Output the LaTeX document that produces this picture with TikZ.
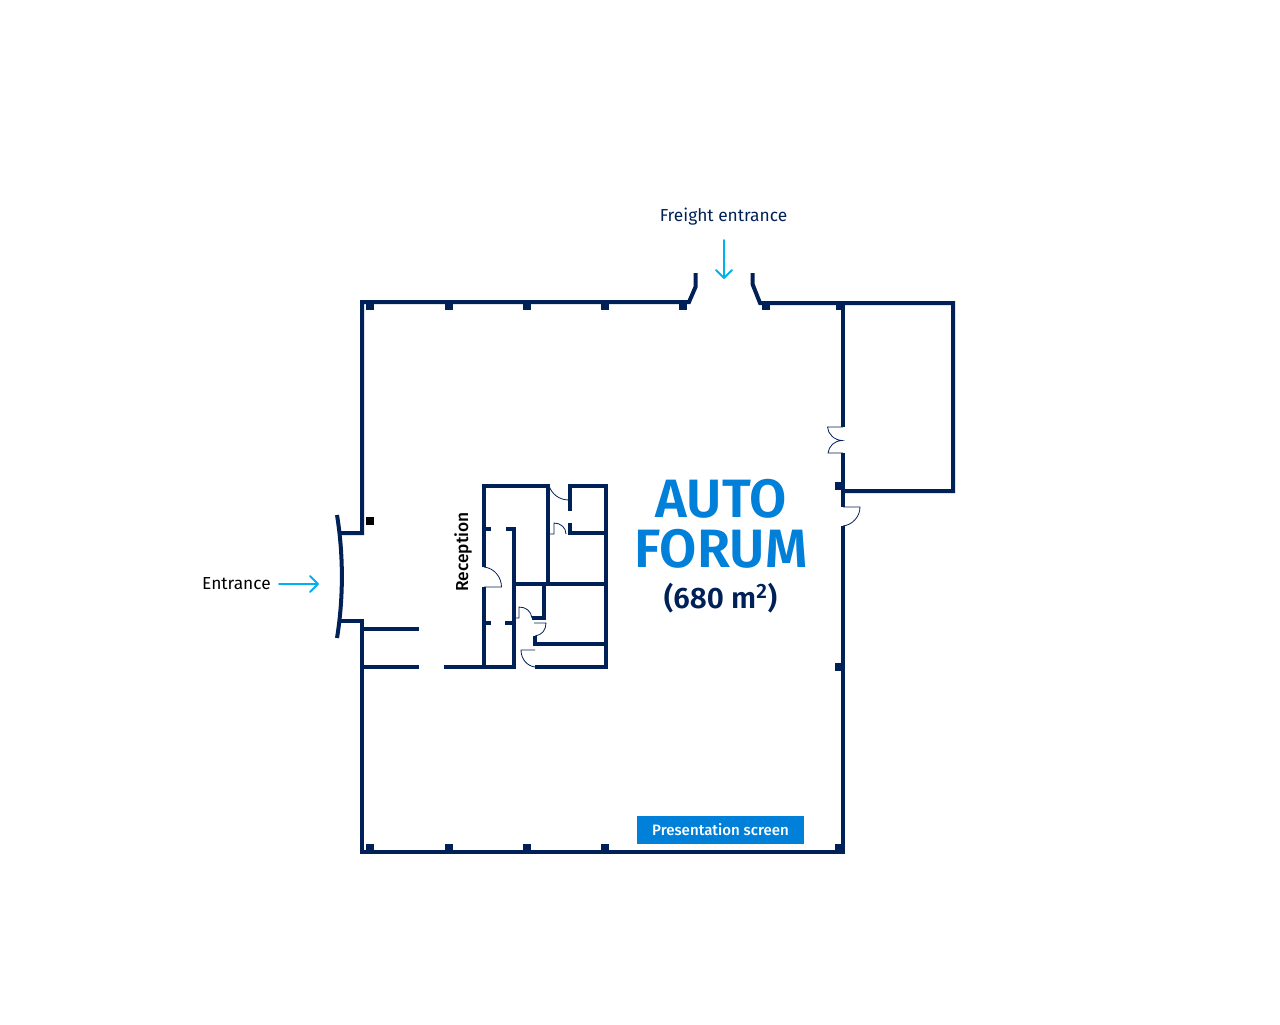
\documentclass[tikz,border=0pt]{standalone}
\usepackage{fontspec}
\setmainfont{Fira Sans}
\newfontface\fsmed{Fira Sans Medium}
\newfontface\fssemi{Fira Sans SemiBold}
\definecolor{navy}{HTML}{002157}
\definecolor{skyc}{HTML}{00B0F0}
\definecolor{brand}{HTML}{0080D8}
\tikzset{
  wall/.style={draw=navy,line width=3pt,line cap=butt,line join=miter},
  door/.style={draw=navy,line width=0.6pt},
  post/.style={fill=navy,draw=none,minimum size=5.6pt,inner sep=0pt,rectangle},
  pointer/.style={draw=skyc,line width=1.35pt,line cap=round,line join=round},
  lab/.style={inner sep=0pt,font=\fontsize{13}{15}\selectfont}
}
\begin{document}
\begin{tikzpicture}[x=0.75pt,y=-0.75pt]
\useasboundingbox (0,0) rectangle (1280,1024);
\fill[white] (0,0) rectangle (1280,1024);
% outer walls
\draw[wall] (695.5,273) -- (695.5,287) -- (689,302) -- (362,302) -- (362,533) -- (340,533);
\draw[wall] (752.5,273) -- (752.5,284) -- (760,303) -- (953,303) -- (953,491) -- (841,491);
\draw[wall] (842.5,303) -- (842.5,427);
\draw[wall] (842.5,453) -- (842.5,507);
\draw[wall] (842.5,526) -- (842.5,852) -- (362,852) -- (362,621) -- (340,621);
\draw[wall] (337,515) .. controls (343.5,555) and (343.5,598) .. (337,638);
\draw[wall] (362,629) -- (419,629);
\draw[wall] (362,667) -- (419,667);
% reception block
\draw[wall] (484,567) -- (484,486) -- (548,486) -- (548,584);
\draw[wall] (484,587) -- (484,667);
\draw[wall] (444,667) -- (514,667) -- (514,529) -- (506,529);
\draw[wall] (484,529) -- (491,529);
\draw[wall] (484,623) -- (491,623);
\draw[wall] (505,623) -- (514,623);
\draw[wall] (514,584) -- (606,584);
\draw[wall] (570,511) -- (570,486) -- (605.5,486) -- (605.5,667) -- (535,667);
\draw[wall] (570,523) -- (570,533);
\draw[wall] (568,533) -- (606,533);
\draw[wall] (544,584) -- (544,618) -- (532,618);
\draw[wall] (535,636) -- (535,644) -- (606,644);
% doors
\draw[door] (484,567) .. controls (494,568) and (501.5,577) .. (501.5,587) -- (484,587);
\draw[door] (549,486) .. controls (552,494) and (559,500) .. (569,500);
\draw[door] (548,534) -- (554,534) -- (554,523) .. controls (561,523) and (566,528) .. (566,534);
\draw[door] (514,618) -- (519,618) -- (519,607) .. controls (526,607) and (531,611) .. (532,618);
\draw[door] (534,623) -- (546,623) .. controls (546,630) and (542,635) .. (535,636);
\draw[door] (535,650) -- (521,650) .. controls (521,659) and (527,666) .. (535,667);
\draw[door] (843,427) -- (827.5,427) .. controls (828,434) and (834,440) .. (842,440.5) .. controls (834,441) and (829,446) .. (828,453) -- (843,453);
\draw[door] (843,507) -- (860,507) .. controls (860,517) and (852,525) .. (843,526);
% columns
\foreach \n/\x in {a/370,b/449,c/527,d/605,e/683,f/766,g/840}
  \node[post] (top\n) at (\x,306) {};
\foreach \n/\x in {a/370,b/449,c/527,d/605,g/839}
  \node[post] (bot\n) at (\x,848) {};
\node[post] (ra) at (839,486) {};
\node[post] (rb) at (839,667) {};
\node[post,fill=black,minimum size=5.4pt] (lone) at (370,521) {};
% labels
\node[lab,text=navy] (freight) at (723.5,216.5) {Freight entrance};
\node[lab,text=black] (entr) at (236.5,584) {Entrance};
\node[lab,text=black,rotate=90,font=\fsmed\fontsize{13}{15}\selectfont] (recep) at (463,552) {Reception};
\node[inner sep=0pt,text=brand,align=center,font=\fssemi\fontsize{40.5}{37.5}\selectfont] (title) at (721,524) {AUTO\\FORUM};
\node[inner sep=0pt,text=navy,font=\fssemi\fontsize{22.2}{26}\selectfont] (area) at (720.5,598) {(680 m\textsuperscript{2})};
\node[fill=brand,text=white,minimum width=125pt,minimum height=21pt,inner sep=0pt,font=\fsmed\fontsize{11.3}{13}\selectfont] (screen) at (720.5,830) {\raisebox{-0.6pt}{Presentation screen}};
% arrows
\coordinate (fa) at (724,240);
\coordinate (fb) at (724,278);
\coordinate (ea) at (279,584);
\coordinate (eb) at (318,584);
\draw[pointer] (fa) -- (fb);
\draw[pointer] ([xshift=-6pt,yshift=6pt]fb) -- (fb) -- ([xshift=6pt,yshift=6pt]fb);
\draw[pointer] (ea) -- (eb);
\draw[pointer] ([xshift=-6pt,yshift=6pt]eb) -- (eb) -- ([xshift=-6pt,yshift=-6pt]eb);
\end{tikzpicture}
\end{document}
